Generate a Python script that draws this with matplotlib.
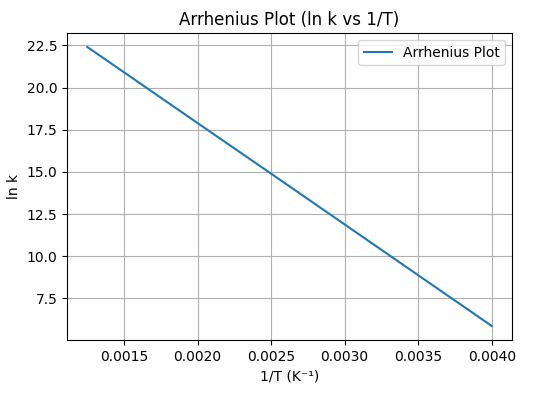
import matplotlib
matplotlib.use("Agg")
import matplotlib.pyplot as plt

# values
inv_T = [0.00125, 0.0015, 0.0020, 0.0025, 0.0030, 0.0035, 0.0040]
ln_k = [22.41, 20.91, 17.90, 14.90, 11.89, 8.88, 5.87]

fig, ax = plt.subplots(figsize=(5.47, 3.93), dpi=100)
fig.subplots_adjust(left=0.1225, right=0.936, top=0.916, bottom=0.135)

ax.plot(inv_T, ln_k, label="Arrhenius Plot")
ax.set_title("Arrhenius Plot (ln k vs 1/T)")
ax.set_xlabel("1/T (K⁻¹)")
ax.set_ylabel("ln k")
ax.grid(True)
ax.legend()

fig.savefig("out.png", dpi=100)
